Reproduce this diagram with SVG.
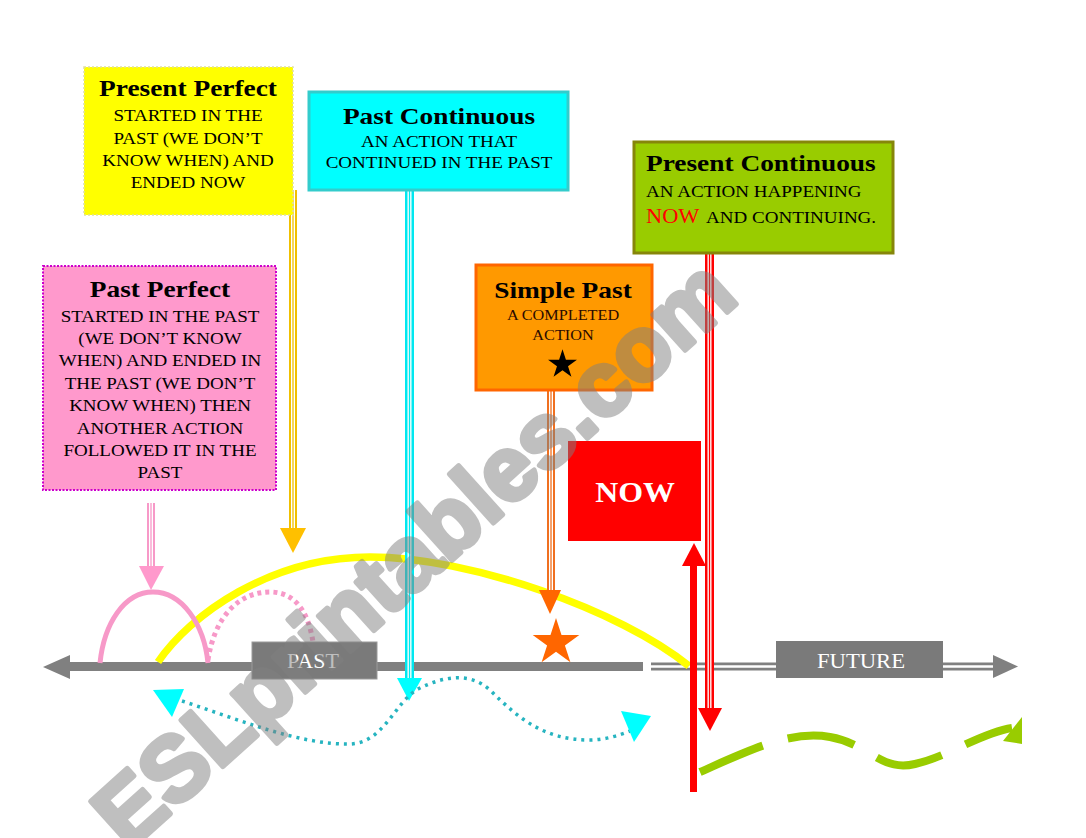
<svg xmlns="http://www.w3.org/2000/svg" width="1086" height="838" viewBox="0 0 1086 838">
<style>
.t{font-family:"Liberation Serif","Times New Roman",serif;fill:#000}
.title{font-weight:bold;font-size:24px}
.body{font-size:17px}
.sm{font-size:14.5px;fill:#2a0a00}
.wm{font-family:"Liberation Sans",Arial,sans-serif;font-weight:bold;font-size:91px;fill:#808080;stroke:#808080;stroke-width:5;stroke-linejoin:round;opacity:0.5}
</style>
<defs>
<polygon id="star" points="0,-10 2.245,-3.09 9.511,-3.09 3.633,1.18 5.878,8.09 0,3.82 -5.878,8.09 -3.633,1.18 -9.511,-3.09 -2.245,-3.09"/>
</defs>
<rect width="1086" height="838" fill="#fff"/>

<g id="connectors">
  <rect x="66" y="662" width="577" height="9" fill="#808080"/>
  <polygon points="43,667 70,655 70,679" fill="#808080"/>
  <line x1="651" y1="666.5" x2="998" y2="666.5" stroke="#808080" stroke-width="8"/>
  <line x1="651" y1="666.5" x2="998" y2="666.5" stroke="#fff" stroke-width="2.5"/>
  <polygon points="1018,666.5 993,655 993,678" fill="#808080"/>

  <path d="M158,662 C190,615 270,557 370,557 C470,557 620,610 689,666" fill="none" stroke="#ffff00" stroke-width="7.5"/>
  <path d="M100,663 C104,624 124,592 153,592 C182,592 204,624 208,663" fill="none" stroke="#f799c8" stroke-width="5"/>
  <path d="M208,660 C215,615 240,592 270,592 C300,592 313,620 315,662" fill="none" stroke="#f799c8" stroke-width="5" stroke-dasharray="4 4"/>

  <line x1="293" y1="190" x2="293" y2="530" stroke="#f0c000" stroke-width="8"/>
  <line x1="293" y1="190" x2="293" y2="530" stroke="#fff" stroke-width="4"/>
  <line x1="293" y1="190" x2="293" y2="530" stroke="#f0c000" stroke-width="1.3"/>
  <polygon points="280,528 306,528 293,553" fill="#ffc000"/>

  <line x1="409.5" y1="190" x2="409.5" y2="680" stroke="#00e8f0" stroke-width="9"/>
  <line x1="409.5" y1="190" x2="409.5" y2="680" stroke="#fff" stroke-width="4"/>
  <line x1="409.5" y1="190" x2="409.5" y2="680" stroke="#00e8f0" stroke-width="1.3"/>
  <polygon points="397,678 422,678 409,701" fill="#00ffff"/>

  <line x1="551" y1="390" x2="551" y2="592" stroke="#f07020" stroke-width="8"/>
  <line x1="551" y1="390" x2="551" y2="592" stroke="#fff" stroke-width="4"/>
  <line x1="551" y1="390" x2="551" y2="592" stroke="#f07020" stroke-width="1.3"/>
  <polygon points="539,590 561,590 550,614" fill="#ff6600"/>
  <use href="#star" transform="translate(556,642.5) scale(2.45)" fill="#ff6600"/>

  <line x1="151" y1="503" x2="151" y2="568" stroke="#f799c8" stroke-width="8"/>
  <line x1="151" y1="503" x2="151" y2="568" stroke="#fff" stroke-width="4"/>
  <line x1="151" y1="503" x2="151" y2="568" stroke="#f799c8" stroke-width="1.3"/>
  <polygon points="139,566 164,566 151,590" fill="#ff99cc"/>

  <line x1="709.5" y1="253" x2="709.5" y2="710" stroke="#ff0000" stroke-width="9"/>
  <line x1="709.5" y1="253" x2="709.5" y2="710" stroke="#fff" stroke-width="4"/>
  <line x1="709.5" y1="253" x2="709.5" y2="710" stroke="#ff0000" stroke-width="1.3"/>
  <polygon points="698,708 722,708 710,731" fill="#ff0000"/>

  <line x1="693.5" y1="792" x2="693.5" y2="560" stroke="#ff0000" stroke-width="7"/>
  <polygon points="682,566 706,566 694,543" fill="#ff0000"/>

  <path d="M182,701 C240,720 300,745 350,744 C385,743 395,700 420,688 C445,676 470,672 490,690 C520,720 545,740 590,740 C605,740 620,735 630,731" fill="none" stroke="#26b4c0" stroke-width="3.5" stroke-dasharray="3 5"/>
  <polygon points="153,690 184,689 172,717" fill="#00ffff"/>
  <polygon points="651,716 621,711 634,742" fill="#00ffff"/>

  <path d="M700,772 C750,750 790,730 830,737 C870,744 880,772 915,764 C950,756 980,733 1012,728" fill="none" stroke="#99cc00" stroke-width="8" stroke-dasharray="68 26"/>
  <polygon points="1022,717 1022,744 1003,741" fill="#99cc00"/>
</g>

<g id="past-label">
  <rect x="252" y="642" width="125" height="37" fill="#7a7a7a" stroke="#9a9a9a" stroke-width="1"/>
  <text class="t" text-anchor="middle" transform="translate(313,668) scale(1.1,1)" font-size="20" style="fill:#fff">PAST</text>
</g>
<g id="future-label">
  <rect x="776" y="641" width="167" height="37" fill="#7a7a7a"/>
  <text class="t" text-anchor="middle" transform="translate(861,668) scale(1.08,1)" font-size="21" style="fill:#fff">FUTURE</text>
</g>

<g id="present-perfect">
  <rect x="84" y="67" width="209" height="148" fill="#ffff00" stroke="#e0e0a0" stroke-width="1.5" stroke-dasharray="2 2"/>
  <text class="t title" text-anchor="middle" transform="translate(188,96) scale(1.14,1)">Present Perfect</text>
  <text class="t body" text-anchor="middle" transform="translate(188,121) scale(1.12,1)">STARTED IN THE</text>
  <text class="t body" text-anchor="middle" transform="translate(188,143.5) scale(1.12,1)">PAST (WE DON’T</text>
  <text class="t body" text-anchor="middle" transform="translate(188,166) scale(1.12,1)">KNOW WHEN) AND</text>
  <text class="t body" text-anchor="middle" transform="translate(188,188) scale(1.12,1)">ENDED NOW</text>
</g>

<g id="past-continuous">
  <rect x="309" y="92" width="259" height="98" fill="#00ffff" stroke="#33cccc" stroke-width="3"/>
  <text class="t title" text-anchor="middle" transform="translate(439,124) scale(1.14,1)">Past Continuous</text>
  <text class="t body" text-anchor="middle" transform="translate(439,147) scale(1.12,1)">AN ACTION THAT</text>
  <text class="t body" text-anchor="middle" transform="translate(439,168) scale(1.12,1)">CONTINUED IN THE PAST</text>
</g>

<g id="present-continuous">
  <rect x="634" y="142" width="259" height="111" fill="#99cc00" stroke="#86860a" stroke-width="3"/>
  <text class="t title" transform="translate(646,171) scale(1.14,1)">Present Continuous</text>
  <text class="t body" transform="translate(646,197) scale(1.12,1)">AN ACTION HAPPENING</text>
  <text class="t" transform="translate(646,223) scale(1.12,1)" font-size="20" style="fill:#ff0000">NOW</text>
  <text class="t body" transform="translate(706,223) scale(1.12,1)">AND CONTINUING.</text>
</g>

<g id="past-perfect">
  <rect x="43" y="266" width="233" height="224" fill="#ff99cc" stroke="#cc00cc" stroke-width="2" stroke-dasharray="2 1.5"/>
  <text class="t title" text-anchor="middle" transform="translate(160,297) scale(1.14,1)">Past Perfect</text>
  <text class="t body" text-anchor="middle" transform="translate(160,321.5) scale(1.12,1)">STARTED IN THE PAST</text>
  <text class="t body" text-anchor="middle" transform="translate(160,343.9) scale(1.12,1)">(WE DON’T KNOW</text>
  <text class="t body" text-anchor="middle" transform="translate(160,366.3) scale(1.12,1)">WHEN) AND ENDED IN</text>
  <text class="t body" text-anchor="middle" transform="translate(160,388.7) scale(1.12,1)">THE PAST (WE DON’T</text>
  <text class="t body" text-anchor="middle" transform="translate(160,411.1) scale(1.12,1)">KNOW WHEN) THEN</text>
  <text class="t body" text-anchor="middle" transform="translate(160,433.5) scale(1.12,1)">ANOTHER ACTION</text>
  <text class="t body" text-anchor="middle" transform="translate(160,455.9) scale(1.12,1)">FOLLOWED IT IN THE</text>
  <text class="t body" text-anchor="middle" transform="translate(160,478.3) scale(1.12,1)">PAST</text>
</g>

<g id="simple-past">
  <rect x="476" y="265" width="176" height="125" fill="#ff9900" stroke="#ff6600" stroke-width="3"/>
  <text class="t title" text-anchor="middle" transform="translate(563,298) scale(1.14,1)">Simple Past</text>
  <text class="t sm" text-anchor="middle" transform="translate(563,320) scale(1.12,1)">A COMPLETED</text>
  <text class="t sm" text-anchor="middle" transform="translate(563,340) scale(1.12,1)">ACTION</text>
  <use href="#star" transform="translate(562.5,364.5) scale(1.52)" fill="#000"/>
</g>

<g id="now">
  <rect x="568" y="441" width="133" height="100" fill="#ff0000"/>
  <text class="t" text-anchor="middle" font-weight="bold" font-size="29" transform="translate(635,502) scale(1.1,1)" style="fill:#fff">NOW</text>
</g>

<text class="wm" transform="translate(128,852) rotate(-42)">ESLprintables.com</text>
</svg>
